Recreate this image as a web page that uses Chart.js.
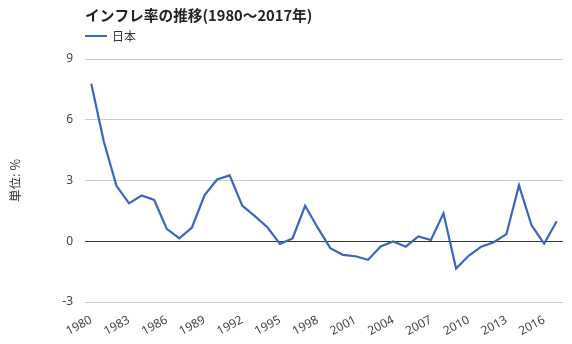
<!DOCTYPE html>
<html>
<head>
<meta charset="utf-8">
<script src="https://cdn.jsdelivr.net/npm/chart.js@4"></script>
<style>
  html, body { margin: 0; padding: 0; background: #fff; }
  #wrap { width: 572px; height: 344px; position: relative; }
</style>
</head>
<body>
<div id="wrap"><canvas id="inflationChart"></canvas></div>
<script>
// 日本のインフレ率 (%)
const years = [];
for (let y = 1980; y <= 2017; y++) years.push(String(y));
const inflation = [
  7.78, 4.91, 2.74, 1.87, 2.26, 2.04, 0.61, 0.14, 0.68, 2.27,
  3.05, 3.25, 1.76, 1.24, 0.69, -0.13, 0.14, 1.75, 0.67, -0.34,
  -0.67, -0.74, -0.92, -0.26, -0.01, -0.27, 0.24, 0.06, 1.38, -1.35,
  -0.72, -0.27, -0.05, 0.35, 2.76, 0.79, -0.12, 0.99
];
const yTicks = [-3, 0, 3, 6, 9];
const titleText = 'インフレ率の推移(1980～2017年)';
const seriesName = '日本';
const yAxisTitle = '単位: %';

const FONT = "'Noto Sans CJK JP', 'Noto Sans', sans-serif";
const NUM_FONT = "'Noto Sans', 'Open Sans', sans-serif";
const LINE_COLOR = '#3a66c0';

// タイトルと凡例をプロット領域の左端にそろえて描く
const headerPlugin = {
  id: 'header',
  afterDraw(chart) {
    const ctx = chart.ctx;
    const left = chart.chartArea.left;
    ctx.save();
    ctx.fillStyle = '#222';
    ctx.font = 'bold 14.7px ' + FONT;
    ctx.textBaseline = 'middle';
    ctx.fillText(titleText, left, 15);
    ctx.strokeStyle = LINE_COLOR;
    ctx.lineWidth = 2;
    ctx.beginPath();
    ctx.moveTo(left, 36);
    ctx.lineTo(left + 22, 36);
    ctx.stroke();
    ctx.fillStyle = '#333';
    ctx.font = '12px ' + FONT;
    ctx.fillText(seriesName, left + 27, 36);
    ctx.restore();
  }
};

new Chart(document.getElementById('inflationChart'), {
  type: 'line',
  data: {
    labels: years,
    datasets: [{
      label: seriesName,
      data: inflation,
      borderColor: LINE_COLOR,
      borderWidth: 2.2,
      pointRadius: 0,
      tension: 0,
      fill: false
    }]
  },
  options: {
    responsive: true,
    maintainAspectRatio: false,
    animation: false,
    layout: { padding: { top: 59, right: 9, left: 0, bottom: 0 } },
    plugins: {
      legend: { display: false },
      title: { display: false },
      tooltip: { enabled: false }
    },
    scales: {
      x: {
        offset: true,
        grid: { display: false },
        border: { display: false },
        afterFit: s => { s.height = 42; },
        ticks: {
          autoSkip: false,
          minRotation: 28,
          maxRotation: 28,
          padding: 3,
          color: '#444',
          font: { family: NUM_FONT, size: 12 },
          callback: function (val, i) { return i % 3 === 0 ? this.getLabelForValue(val) : ''; }
        }
      },
      y: {
        min: yTicks[0],
        max: yTicks[yTicks.length - 1],
        border: { display: false },
        afterFit: s => { s.width = 85; },
        afterBuildTicks: s => { s.ticks = yTicks.map(v => ({ value: v })); },
        grid: {
          color: ctx => ctx.tick.value === 0 ? '#333' : '#ccc',
          lineWidth: 1,
          drawTicks: false
        },
        ticks: {
          padding: 12,
          color: '#444',
          font: { family: NUM_FONT, size: 12 }
        },
        title: {
          display: true,
          text: yAxisTitle,
          color: '#333',
          font: { family: FONT, size: 12.5 },
          padding: { top: 8, bottom: 12 }
        }
      }
    }
  },
  plugins: [headerPlugin]
});
</script>
</body>
</html>
